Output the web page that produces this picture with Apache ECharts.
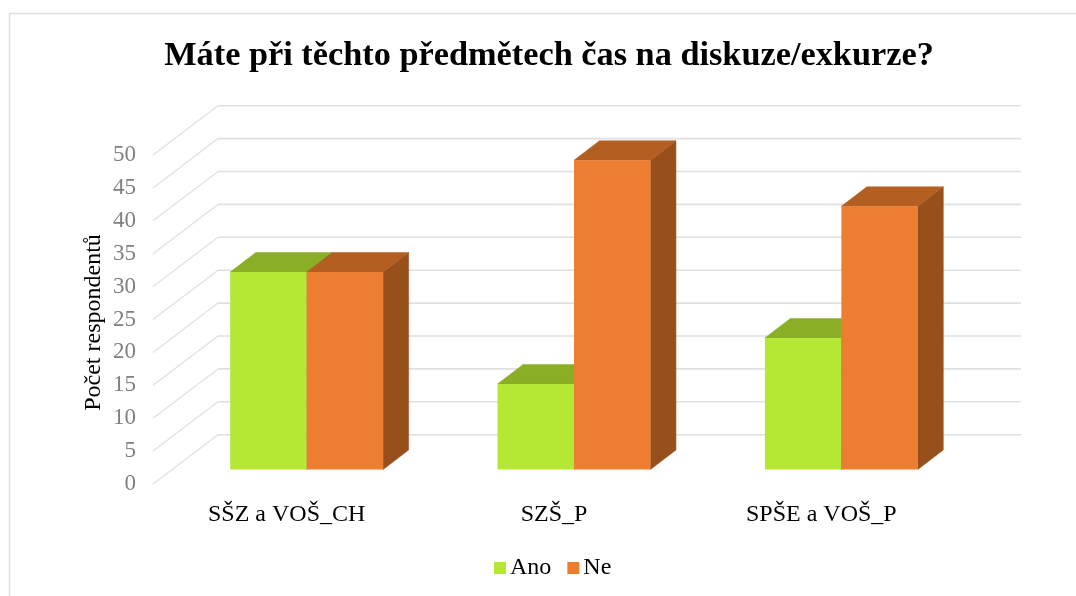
<!DOCTYPE html>
<html><head><meta charset="utf-8">
<style>html,body{margin:0;padding:0;background:#fff}#c{width:1076px;height:596px}</style>
<script src="https://cdn.jsdelivr.net/npm/echarts@6/dist/echarts.min.js"></script>
</head><body><div id="c"></div>
<script>
const categories = ['SŠZ a VOŠ_CH', 'SZŠ_P', 'SPŠE a VOŠ_P'];
const ano = [30, 13, 20];
const ne = [30, 47, 40];
const ticks = [0, 5, 10, 15, 20, 25, 30, 35, 40, 45, 50];

const SERIF = '"Liberation Serif"';
const wall = [65, -49.3], plane = [20, -14.5], depth = [25.5, -19.5];
const faces = {
  Ano: {front: '#b5e834', top: '#8aae26', side: '#6e8c1e'},
  Ne: {front: '#ed7d31', top: '#b45f22', side: '#974f1c'}
};
function wallItem(params, api) {
  const p = api.coord([0, api.value(0)]);
  const cs = params.coordSys;
  const x0 = cs.x, y = p[1];
  const right = cs.x + cs.width + wall[0] + 1;
  return {type: 'group', silent: true, children: [
    {type: 'line', shape: {x1: x0, y1: y, x2: x0 + wall[0], y2: y + wall[1]}, style: {stroke: '#e0e0e0', lineWidth: 1.2}},
    {type: 'line', shape: {x1: x0 + wall[0], y1: y + wall[1], x2: right, y2: y + wall[1]}, style: {stroke: '#e0e0e0', lineWidth: 1.6}}
  ]};
}
function barItem(name, side) {
  return function (params, api) {
    const c = api.coord([api.value(0), api.value(1)]);
    const b = api.coord([api.value(0), 0]);
    const w = api.size([1, 0])[0] * 0.286;
    const xL = c[0] + plane[0] + (side < 0 ? -w : 0), xR = xL + w;
    const yT = c[1] + plane[1], yB = b[1] + plane[1];
    const f = faces[name], dx = depth[0], dy = depth[1];
    const poly = (pts, fill) => ({type: 'polygon', shape: {points: pts}, style: {fill, stroke: fill, lineWidth: 0.5}});
    return {type: 'group', children: [
      poly([[xR, yB], [xR + dx, yB + dy], [xR + dx, yT + dy], [xR, yT]], f.side),
      poly([[xL, yT], [xL + dx, yT + dy], [xR + dx, yT + dy], [xR, yT]], f.top),
      {type: 'rect', shape: {x: xL, y: yT, width: w, height: yB - yT}, style: {fill: f.front}}
    ]};
  };
}
const chart = echarts.init(document.getElementById('c'), null, {renderer: 'canvas'});
chart.setOption({
  animation: false,
  backgroundColor: '#fff',
  graphic: [{type: 'rect', z: -10, silent: true, shape: {x: 9.5, y: 13.5, width: 1200, height: 700},
    style: {fill: 'none', stroke: '#dedede', lineWidth: 1.5}}],
  title: {text: 'Máte při těchto předmětech čas na diskuze/exkurze?', left: 544, top: 34, textAlign: 'center',
    textStyle: {fontFamily: SERIF, fontWeight: 'bold', fontSize: 34.3, color: '#000'}},
  legend: {data: [{name: 'Ano', itemStyle: {color: faces.Ano.front}}, {name: 'Ne', itemStyle: {color: faces.Ne.front}}],
    left: 489, top: 551, itemWidth: 12, itemHeight: 12, itemGap: 16, icon: 'rect',
    textStyle: {fontFamily: SERIF, fontSize: 24, color: '#000', padding: [0, 0, 0, -1]}},
  grid: {left: 153, top: 155, width: 802, height: 329, containLabel: false},
  xAxis: {type: 'category', data: categories, axisLine: {show: false}, axisTick: {show: false},
    axisLabel: {fontFamily: SERIF, fontSize: 24, color: '#000', margin: 19}},
  yAxis: {type: 'value', min: 0, max: 50, interval: 5, splitLine: {show: false}, axisLine: {show: false}, axisTick: {show: false},
    name: 'Počet respondentů', nameLocation: 'middle', nameGap: 47, nameRotate: 90, nameMoveOverlap: false,
    nameTextStyle: {fontFamily: SERIF, fontSize: 24, color: '#000', padding: [0, 6, 0, 0]},
    axisLabel: {fontFamily: SERIF, fontSize: 23, color: '#808080', margin: 17, align: 'right'}},
  series: [
    {type: 'custom', name: 'mřížka', silent: true, z: 1, coordinateSystem: 'cartesian2d', renderItem: wallItem,
      data: ticks.map(t => [t]), encode: {y: 0}},
    {type: 'custom', name: 'Ano', z: 2, renderItem: barItem('Ano', -1), data: ano.map((v, i) => [i, v]), encode: {x: 0, y: 1},
      itemStyle: {color: faces.Ano.front}},
    {type: 'custom', name: 'Ne', z: 3, renderItem: barItem('Ne', 1), data: ne.map((v, i) => [i, v]), encode: {x: 0, y: 1},
      itemStyle: {color: faces.Ne.front}}
  ]
});
</script></body></html>
